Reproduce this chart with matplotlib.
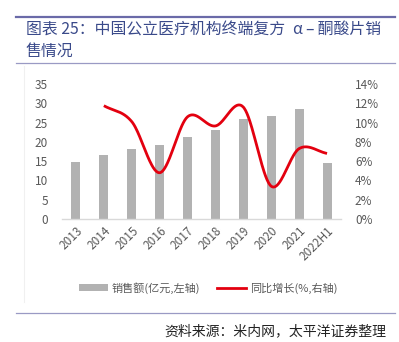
import numpy as np
import matplotlib
matplotlib.use("Agg")
import matplotlib.pyplot as plt
from matplotlib.lines import Line2D
from matplotlib.patches import Patch

plt.rcParams['font.family'] = ['Noto Sans CJK SC', 'DejaVu Sans']

years = ['2013', '2014', '2015', '2016', '2017', '2018', '2019', '2020', '2021', '2022H1']
sales = [14.9, 16.6, 18.2, 19.1, 21.2, 23.1, 25.8, 26.7, 28.6, 14.5]
growth = [None, 11.75, 10.1, 4.8, 10.6, 9.65, 11.6, 3.4, 7.3, 6.8]

W, H = 399, 342
fig = plt.figure(figsize=(W / 100, H / 100), dpi=100)

def fx(px):
    return px / W

def fy(py):
    return 1 - py / H

# header rules and title
title_color = '#3A4A8A'
fig.add_artist(Line2D([fx(16), fx(395)], [fy(17), fy(17)], color='#6A6AA8', lw=1.6))
fig.add_artist(Line2D([fx(16), fx(395)], [fy(63), fy(63)], color='#9A9AC4', lw=0.9))
fig.text(fx(26), fy(30), '图表 25：中国公立医疗机构终端复方\u2002α\u2009–\u2009酮酸片销',
         color=title_color, fontsize=11.4, va='center', ha='left')
fig.text(fx(26), fy(51), '售情况', color=title_color, fontsize=11.4, va='center', ha='left')

# faint chart-area edge
fig.add_artist(Line2D([fx(24), fx(24)], [fy(66), fy(302)], color='#F0F0F0', lw=0.8))

# footer
fig.add_artist(Line2D([fx(16), fx(395)], [fy(313), fy(313)], color='#9A9AC4', lw=0.9))
fig.text(fx(386), fy(331), '资料来源：米内网，太平洋证券整理', color='#222222',
         fontsize=10, va='center', ha='right', style='italic')

# axes
x0, x1, ytop, ybot = 62, 341, 84, 219
ax = fig.add_axes([fx(x0), fy(ybot), fx(x1) - fx(x0), fy(ytop) - fy(ybot)])
ax2 = ax.twinx()

x = np.arange(len(years))
ax.bar(x, sales, width=0.32, color='#B2B2B2', zorder=2)
ax.set_xlim(-0.5, len(years) - 0.5)
ax.set_ylim(0, 35)
ax.set_yticks(np.arange(0, 36, 5))
ax.set_xticks(x)
ax.set_xticklabels(years, rotation=45, ha='right', va='top', rotation_mode='anchor')

# smoothed line (Catmull-Rom through data points)
gx = np.array([i for i, g in enumerate(growth) if g is not None], dtype=float)
gy = np.array([g for g in growth if g is not None], dtype=float)
px = np.concatenate([[2 * gx[0] - gx[1]], gx, [2 * gx[-1] - gx[-2]]])
py = np.concatenate([[2 * gy[0] - gy[1]], gy, [2 * gy[-1] - gy[-2]]])
sx, sy = [], []
t = np.linspace(0, 1, 40)
for i in range(1, len(px) - 2):
    p0, p1, p2, p3 = py[i - 1], py[i], py[i + 1], py[i + 2]
    q0, q1, q2, q3 = px[i - 1], px[i], px[i + 1], px[i + 2]
    for arr, a0, a1, a2, a3 in ((sy, p0, p1, p2, p3), (sx, q0, q1, q2, q3)):
        seg = 0.5 * ((2 * a1) + (-a0 + a2) * t + (2 * a0 - 5 * a1 + 4 * a2 - a3) * t ** 2
                     + (-a0 + 3 * a1 - 3 * a2 + a3) * t ** 3)
        arr.extend(seg.tolist())
ax2.plot(sx, sy, color='#E3000F', lw=2, zorder=3, solid_capstyle='butt')
ax2.set_ylim(0, 14)
ax2.set_yticks(np.arange(0, 15, 2))
ax2.set_yticklabels([f'{v}%' for v in range(0, 15, 2)])

tick_color = '#595959'
for a in (ax, ax2):
    for s in a.spines.values():
        s.set_visible(False)
    a.tick_params(length=0, labelsize=8.5, colors=tick_color)
ax.spines['bottom'].set_visible(True)
ax.spines['bottom'].set_color('#D9D9D9')
ax.spines['bottom'].set_linewidth(1)
ax.tick_params(axis='y', pad=10)
ax.tick_params(axis='x', pad=4)
ax2.tick_params(axis='y', pad=10)

# legend
handles = [Patch(facecolor='#B2B2B2', edgecolor='none'),
           Line2D([0], [0], color='#E3000F', lw=2)]
fig.legend(handles, ['销售额(亿元,左轴)', '同比增长(%,右轴)'], loc='center',
           bbox_to_anchor=(fx(208), fy(288)), ncol=2, frameon=False,
           fontsize=8, labelcolor=tick_color, handlelength=2.6, handleheight=0.6,
           columnspacing=1.6, handletextpad=0.3)

fig.savefig('out.png', dpi=100)
